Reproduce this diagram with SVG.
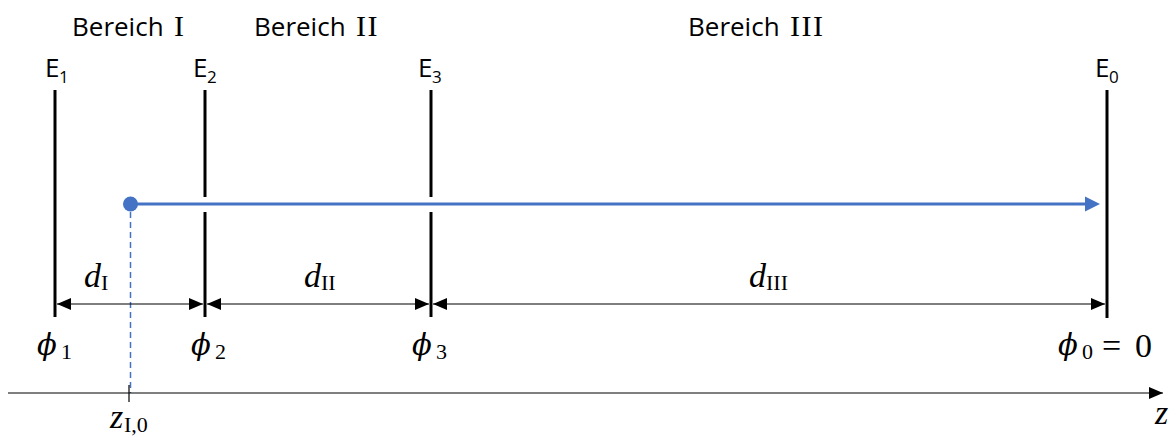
<svg xmlns="http://www.w3.org/2000/svg" width="1175" height="437" viewBox="0 0 1175 437">
<style>
.sans{font-family:"Open Sans","Noto Sans",sans-serif;font-size:26px;fill:#000}
.rom{font-family:"Liberation Serif","DejaVu Serif",serif;font-size:30px;letter-spacing:1.5px;fill:#000}
.sub{font-family:"Open Sans","Noto Sans",sans-serif;font-size:17px}
.math{font-family:"Liberation Serif","DejaVu Serif",serif;font-style:italic;font-size:34px;fill:#000}
.phi{font-family:"DejaVu Serif","Liberation Serif",serif;font-style:italic;font-size:29px;fill:#000}
.up{font-family:"Liberation Serif","DejaVu Serif",serif;font-style:normal;font-size:34px;fill:#000}
.msub{font-family:"Liberation Serif","DejaVu Serif",serif;font-style:normal;font-size:22px;fill:#000}
.el{stroke:#000;stroke-width:3;fill:none}
.dim{stroke:#000;stroke-width:1.2;fill:none}
</style>
<defs>
<marker id="ah" viewBox="0 0 14 12" refX="14" refY="6" markerWidth="14" markerHeight="12" markerUnits="userSpaceOnUse" orient="auto-start-reverse">
<path d="M0,0 L14,6 L0,12 Z" fill="#000"/>
</marker>
</defs>
<g id="labels-regions">
<text class="sans" x="72" y="36">Bereich</text><text class="rom" x="174" y="36">I</text>
<text class="sans" x="254" y="36">Bereich</text><text class="rom" x="356" y="36">II</text>
<text class="sans" x="688" y="36">Bereich</text><text class="rom" x="790" y="36">III</text>
</g>
<g id="E1">
<text class="sans" x="45" y="77">E</text><text class="sub" x="59" y="83">1</text>
<line class="el" x1="55" y1="90" x2="55" y2="317"/>
<text class="phi" x="37" y="355">ϕ</text><text class="msub" x="61" y="359">1</text>
</g>
<g id="E2">
<text class="sans" x="193" y="77">E</text><text class="sub" x="207" y="83">2</text>
<line class="el" x1="205" y1="90" x2="205" y2="197"/>
<line class="el" x1="205" y1="212" x2="205" y2="317"/>
<text class="phi" x="191" y="355">ϕ</text><text class="msub" x="215" y="359">2</text>
</g>
<g id="E3">
<text class="sans" x="418" y="77">E</text><text class="sub" x="432" y="83">3</text>
<line class="el" x1="431" y1="90" x2="431" y2="197"/>
<line class="el" x1="431" y1="212" x2="431" y2="317"/>
<text class="phi" x="412" y="355">ϕ</text><text class="msub" x="436" y="359">3</text>
</g>
<g id="E0">
<text class="sans" x="1095" y="77">E</text><text class="sub" x="1109" y="83">0</text>
<line class="el" x1="1107" y1="90" x2="1107" y2="318"/>
<text class="phi" x="1058" y="355">ϕ</text><text class="msub" x="1082" y="359">0</text>
<text class="up" x="1102" y="357">=</text><text class="up" x="1135" y="357">0</text>
</g>
<g id="particle">
<circle cx="130.5" cy="204" r="7.5" fill="#4472C4"/>
</g>
<g id="connectors">
<line x1="137" y1="204" x2="1087" y2="204" stroke="#4472C4" stroke-width="3"/>
<path d="M1085,196.5 L1100,204 L1085,211.5 Z" fill="#4472C4"/>
<line x1="130.5" y1="212" x2="130.5" y2="393" stroke="#4472C4" stroke-width="1.5" stroke-dasharray="6,4"/>
<line class="dim" x1="57" y1="304" x2="203" y2="304" marker-start="url(#ah)" marker-end="url(#ah)"/>
<line class="dim" x1="207" y1="304" x2="429" y2="304" marker-start="url(#ah)" marker-end="url(#ah)"/>
<line class="dim" x1="433" y1="304" x2="1105" y2="304" marker-start="url(#ah)" marker-end="url(#ah)"/>
<line class="dim" x1="8" y1="393" x2="1163" y2="393" marker-end="url(#ah)"/>
<line class="dim" x1="129" y1="385" x2="129" y2="402"/>
</g>
<g id="dim-labels">
<text class="math" x="84" y="287">d</text><text class="msub" x="101" y="290">I</text>
<text class="math" x="304" y="287">d</text><text class="msub" x="321" y="290">II</text>
<text class="math" x="749" y="287">d</text><text class="msub" x="766" y="290">III</text>
<text class="math" x="110" y="428">z</text><text class="msub" x="124" y="432">I,0</text>
<text class="math" x="1155" y="424">z</text>
</g>
</svg>
